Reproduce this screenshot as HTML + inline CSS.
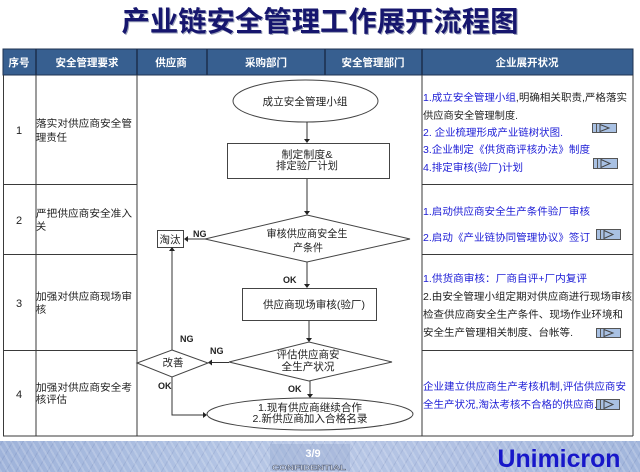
<!DOCTYPE html>
<html><head><meta charset="utf-8">
<style>
html,body{margin:0;padding:0;background:#fff;}
#page{position:relative;width:640px;height:472px;overflow:hidden;background:#fff;}
#foot{position:absolute;left:0;top:441px;width:640px;height:31px;
background:
repeating-linear-gradient(60deg, rgba(255,255,255,0.18) 0 2px, rgba(255,255,255,0) 2px 6px),
repeating-linear-gradient(-60deg, rgba(60,80,140,0.12) 0 1px, rgba(0,0,0,0) 1px 9px),
linear-gradient(90deg,#9fb3da 0%,#b0c2e3 30%,#b9c8e6 50%,#aebfe2 75%,#a2b6dc 100%);}
svg{position:absolute;left:0;top:0;}
text{font-family:"Liberation Sans","Noto Sans CJK SC",sans-serif;}
</style></head>
<body><div id="page">
<div id="foot"></div>
<svg width="640" height="472" viewBox="0 0 640 472" xmlns="http://www.w3.org/2000/svg">
<!-- Title -->
<text x="321" y="32" font-size="28" font-weight="bold" fill="#9aa0b8" text-anchor="middle" textLength="397" lengthAdjust="spacingAndGlyphs">产业链安全管理工作展开流程图</text>
<text x="320" y="31" font-size="28" font-weight="bold" fill="#16166e" text-anchor="middle" textLength="397" lengthAdjust="spacingAndGlyphs">产业链安全管理工作展开流程图</text>

<!-- Header -->
<rect x="3" y="49" width="630" height="26" fill="#375f90" stroke="#1f3352" stroke-width="1"/>
<g stroke="#1c2e4c" stroke-width="1.5">
<line x1="36" y1="49" x2="36" y2="75"/>
<line x1="137" y1="49" x2="137" y2="75"/>
<line x1="207" y1="49" x2="207" y2="75"/>
<line x1="325" y1="49" x2="325" y2="75"/>
<line x1="422" y1="49" x2="422" y2="75"/>
</g>
<g font-size="10.5" font-weight="bold" fill="#ffffff" text-anchor="middle">
<text x="19" y="66">序号</text>
<text x="87" y="66">安全管理要求</text>
<text x="171" y="66">供应商</text>
<text x="266" y="66">采购部门</text>
<text x="373" y="66">安全管理部门</text>
<text x="527" y="66">企业展开状况</text>
</g>

<!-- Body grid -->
<g stroke="#3a3a3a" stroke-width="1" fill="none">
<line x1="3.5" y1="75" x2="3.5" y2="436"/>
<line x1="36" y1="75" x2="36" y2="436"/>
<line x1="137" y1="75" x2="137" y2="436"/>
<line x1="422" y1="75" x2="422" y2="436"/>
<line x1="633" y1="75" x2="633" y2="436"/>
<line x1="3" y1="184.5" x2="137" y2="184.5"/>
<line x1="3" y1="254.5" x2="137" y2="254.5"/>
<line x1="3" y1="350.5" x2="137" y2="350.5"/>
<line x1="422" y1="184.5" x2="633" y2="184.5"/>
<line x1="422" y1="254.5" x2="633" y2="254.5"/>
<line x1="422" y1="350.5" x2="633" y2="350.5"/>
<line x1="3" y1="436" x2="633" y2="436"/>
</g>

<!-- Left columns -->
<g font-size="11" fill="#222" text-anchor="middle">
<text x="19" y="134">1</text>
<text x="19" y="224">2</text>
<text x="19" y="307">3</text>
<text x="19" y="398">4</text>
</g>
<g font-size="10.2" fill="#222">
<text x="36" y="127" textLength="96" lengthAdjust="spacingAndGlyphs">落实对供应商安全管</text>
<text x="36" y="141" textLength="31" lengthAdjust="spacingAndGlyphs">理责任</text>
<text x="36" y="217" textLength="96" lengthAdjust="spacingAndGlyphs">严把供应商安全准入</text>
<text x="36" y="230">关</text>
<text x="36" y="300" textLength="96" lengthAdjust="spacingAndGlyphs">加强对供应商现场审</text>
<text x="36" y="313">核</text>
<text x="36" y="391" textLength="96" lengthAdjust="spacingAndGlyphs">加强对供应商安全考</text>
<text x="36" y="403" textLength="31" lengthAdjust="spacingAndGlyphs">核评估</text>
</g>

<!-- Right column texts -->
<g font-size="10.2">
<text x="423" y="101" textLength="204" lengthAdjust="spacingAndGlyphs"><tspan fill="#1c1cd6">1.成立安全管理小组</tspan><tspan fill="#222">,明确相关职责,严格落实</tspan></text>
<text x="423" y="119" fill="#222" textLength="95" lengthAdjust="spacingAndGlyphs">供应商安全管理制度.</text>
<text x="423" y="136" fill="#1c1cd6" textLength="140" lengthAdjust="spacingAndGlyphs">2. 企业梳理形成产业链树状图.</text>
<text x="423" y="153" fill="#1c1cd6" textLength="167" lengthAdjust="spacingAndGlyphs">3.企业制定《供货商评核办法》制度</text>
<text x="423" y="171" fill="#1c1cd6" textLength="100" lengthAdjust="spacingAndGlyphs">4.排定审核(验厂)计划</text>
<text x="423" y="215" fill="#1c1cd6" textLength="167" lengthAdjust="spacingAndGlyphs">1.启动供应商安全生产条件验厂审核</text>
<text x="423" y="241" fill="#1c1cd6" textLength="167" lengthAdjust="spacingAndGlyphs">2.启动《产业链协同管理协议》签订</text>
<text x="423" y="282" fill="#1c1cd6" textLength="164" lengthAdjust="spacingAndGlyphs">1.供货商审核：厂商自评+厂内复评</text>
<text x="423" y="300" fill="#222" textLength="209" lengthAdjust="spacingAndGlyphs">2.由安全管理小组定期对供应商进行现场审核</text>
<text x="423" y="318" fill="#222" textLength="200" lengthAdjust="spacingAndGlyphs">检查供应商安全生产条件、现场作业环境和</text>
<text x="423" y="336" fill="#222" textLength="150" lengthAdjust="spacingAndGlyphs">安全生产管理相关制度、台帐等.</text>
<text x="423" y="390" fill="#1c1cd6" textLength="203" lengthAdjust="spacingAndGlyphs">企业建立供应商生产考核机制,评估供应商安</text>
<text x="423" y="408" fill="#1c1cd6" textLength="174" lengthAdjust="spacingAndGlyphs">全生产状况,淘汰考核不合格的供应商.</text>
</g>

<!-- Buttons -->
<g stroke="#555" stroke-width="1">
<g transform="translate(592,123)"><rect x="0.5" y="0.5" width="24" height="9" fill="#a9c1e3"/><line x1="4.5" y1="1" x2="4.5" y2="9.5"/><polygon points="8,1.5 17,5 8,8.5" fill="#a9c1e3" stroke="#444"/></g>
<g transform="translate(593,158)"><rect x="0.5" y="0.5" width="24" height="10" fill="#a9c1e3"/><line x1="4.5" y1="1" x2="4.5" y2="10.5"/><polygon points="8,1.5 17,5.5 8,9.5" fill="#a9c1e3" stroke="#444"/></g>
<g transform="translate(596,229)"><rect x="0.5" y="0.5" width="24" height="10" fill="#a9c1e3"/><line x1="4.5" y1="1" x2="4.5" y2="10.5"/><polygon points="8,1.5 17,5.5 8,9.5" fill="#a9c1e3" stroke="#444"/></g>
<g transform="translate(596,328)"><rect x="0.5" y="0.5" width="24" height="9" fill="#a9c1e3"/><line x1="4.5" y1="1" x2="4.5" y2="9.5"/><polygon points="8,1.5 17,5 8,8.5" fill="#a9c1e3" stroke="#444"/></g>
<g transform="translate(596,399)"><rect x="0.5" y="0.5" width="23" height="10" fill="#a9c1e3"/><line x1="4.5" y1="1" x2="4.5" y2="10.5"/><polygon points="8,1.5 17,5.5 8,9.5" fill="#a9c1e3" stroke="#444"/></g>
</g>

<!-- Flowchart shapes -->
<g stroke="#444" stroke-width="1" fill="#fff">
<ellipse cx="305.5" cy="101" rx="72.5" ry="21"/>
<rect x="227.5" y="143.5" width="162" height="35"/>
<polygon points="307,215 410,239 307,262 205,239"/>
<rect x="157.5" y="230.5" width="26" height="17"/>
<rect x="242.5" y="288.5" width="134" height="32"/>
<polygon points="309,342 392,362 309,381 229,362"/>
<polygon points="172,350 208,363 172,377 137,363"/>
<ellipse cx="310" cy="414" rx="103" ry="16"/>
</g>

<!-- Connectors -->
<g stroke="#333" stroke-width="1" fill="none">
<line x1="307" y1="122" x2="307" y2="139"/>
<line x1="307" y1="179" x2="307" y2="211"/>
<line x1="307" y1="262" x2="307" y2="284"/>
<line x1="309" y1="321" x2="309" y2="338"/>
<line x1="310" y1="381" x2="310" y2="394"/>
<line x1="205" y1="239" x2="187" y2="239"/>
<line x1="229" y1="362.5" x2="212" y2="362.5"/>
<line x1="172" y1="350" x2="172" y2="251"/>
<polyline points="172,377 172,415 203,415"/>
</g>
<g fill="#222" stroke="none">
<polygon points="304,139 310,139 307,143"/>
<polygon points="304,211 310,211 307,215"/>
<polygon points="304,284 310,284 307,288"/>
<polygon points="306,338 312,338 309,342"/>
<polygon points="307,394 313,394 310,398"/>
<polygon points="188,236 188,242 184,239"/>
<polygon points="212,359.5 212,365.5 208,362.5"/>
<polygon points="169,251 175,251 172,247"/>
<polygon points="203,412 203,418 207,415"/>
</g>

<!-- Flowchart text -->
<g font-size="10.5" fill="#222" text-anchor="middle">
<text x="305" y="105" textLength="85" lengthAdjust="spacingAndGlyphs">成立安全管理小组</text>
<text x="307" y="158" textLength="51" lengthAdjust="spacingAndGlyphs">制定制度&amp;</text>
<text x="307" y="169" textLength="62" lengthAdjust="spacingAndGlyphs">排定验厂计划</text>
<text x="307" y="237" textLength="81" lengthAdjust="spacingAndGlyphs">审核供应商安全生</text>
<text x="308" y="251" textLength="30" lengthAdjust="spacingAndGlyphs">产条件</text>
<text x="170" y="243">淘汰</text>
<text x="314" y="308" textLength="102" lengthAdjust="spacingAndGlyphs">供应商现场审核(验厂)</text>
<text x="308" y="358" textLength="63" lengthAdjust="spacingAndGlyphs">评估供应商安</text>
<text x="308" y="370" textLength="53" lengthAdjust="spacingAndGlyphs">全生产状况</text>
<text x="173" y="366">改善</text>
<text x="310" y="411" textLength="104" lengthAdjust="spacingAndGlyphs">1.现有供应商继续合作</text>
<text x="310" y="422" textLength="115" lengthAdjust="spacingAndGlyphs">2.新供应商加入合格名录</text>
</g>
<g font-size="9" font-weight="bold" fill="#222">
<text x="193" y="237">NG</text>
<text x="283" y="283">OK</text>
<text x="180" y="342">NG</text>
<text x="210" y="354">NG</text>
<text x="158" y="389">OK</text>
<text x="288" y="392">OK</text>
</g>

<!-- Footer texts -->
<rect x="270" y="444" width="80" height="27" fill="#8fa3cc" opacity="0.35"/>
<text x="313" y="457" font-size="11" font-weight="bold" fill="#ffffff" text-anchor="middle">3/9</text>
<text x="309" y="470" font-size="7" font-weight="bold" fill="#f4f6fb" stroke="#5a6680" stroke-width="0.5" text-anchor="middle" textLength="74" lengthAdjust="spacingAndGlyphs">CONFIDENTIAL</text>
<text x="559" y="467" font-size="25" font-weight="bold" fill="#1717c9" text-anchor="middle" textLength="123" lengthAdjust="spacingAndGlyphs">Unimicron</text>
</svg>
</div></body></html>
